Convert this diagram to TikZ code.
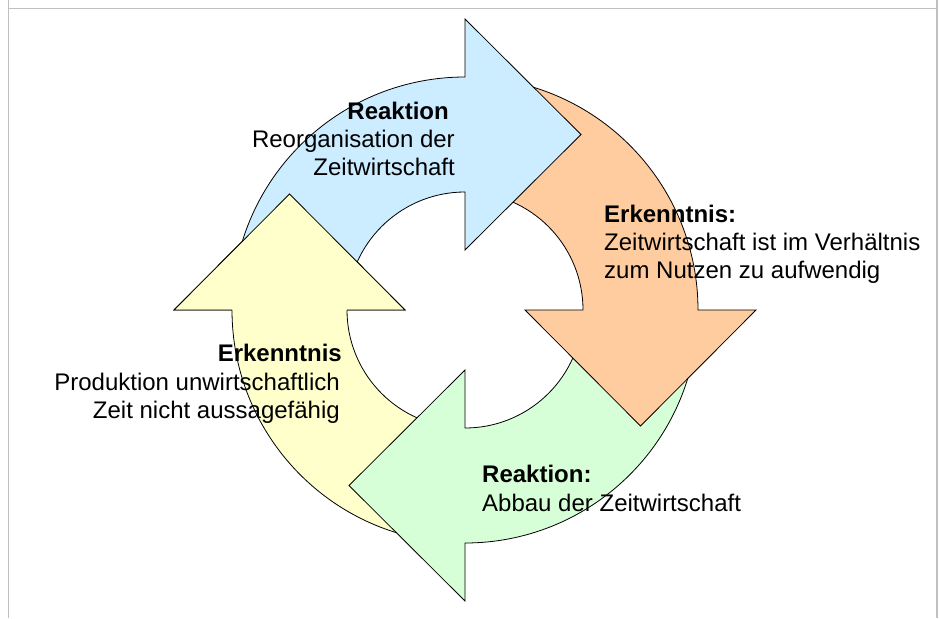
\documentclass[tikz,border=0pt]{standalone}
\usepackage{fontspec}
\setmainfont{Liberation Sans}
\definecolor{cblue}{RGB}{204,236,255}
\definecolor{corange}{RGB}{255,204,160}
\definecolor{cgreen}{RGB}{215,255,215}
\definecolor{cyellow}{RGB}{255,255,204}
\definecolor{framec}{RGB}{192,192,192}
\newcommand\cycarrow{(175:233) arc[start angle=175,end angle=90,radius=233pt] -- (90:291) -- (116,175.5) -- (90:60) -- (90:118) arc[start angle=90,end angle=175,radius=118pt] -- cycle}
\begin{document}
\begin{tikzpicture}[x=1pt,y=1pt,
  arrshape/.style={draw=black, line width=0.8pt, line join=miter},
  tx/.style={font=\fontsize{24}{27.6}\selectfont, inner sep=0pt},
  boldtx/.style={font=\fontsize{24}{27.6}\selectfont\bfseries, inner sep=0pt}]
\useasboundingbox (0,0) rectangle (939,-618);
% frame
\draw[framec, line width=1.5pt] (8.5,0) -- (8.5,-618);
\draw[framec, line width=1.5pt] (937,0) -- (937,-618);
\draw[framec, line width=1.5pt] (8.5,-8.5) -- (937,-8.5);
% arrows
\foreach \k/\c in {3/cyellow,2/cgreen,1/corange,0/cblue}{
  \begin{scope}[shift={(465,-310)}, rotate=-90*\k]
    \filldraw[arrshape, fill=\c] \cycarrow;
  \end{scope}
}
% yellow head on top of blue tail
\begin{scope}[shift={(465,-310)}, rotate=90]
  \fill[cyellow] (90:60) -- (116,175.5) -- (90:291) -- cycle;
  \draw[arrshape] (90:118) -- (90:60) -- (116,175.5) -- (90:291) -- (90:233);
\end{scope}
% texts
\node[boldtx, anchor=base east] (b1) at (449,-119) {Reaktion};
\node[tx, anchor=base east] (b2) at (455,-147.5) {Reorganisation der};
\node[tx, anchor=base east] (b3) at (455,-175.7) {Zeitwirtschaft};
\node[boldtx, anchor=base west] (o1) at (604,-222.3) {Erkenntnis:};
\node[tx, anchor=base west] (o2) at (604,-250.7) {Zeitwirtschaft ist im Verhältnis};
\node[tx, anchor=base west] (o3) at (604,-278.5) {zum Nutzen zu aufwendig};
\node[boldtx, anchor=base east] (y1) at (342,-361.7) {Erkenntnis};
\node[tx, anchor=base east] (y2) at (340,-390) {Produktion unwirtschaftlich};
\node[tx, anchor=base east] (y3) at (340,-418.3) {Zeit nicht aussagefähig};
\node[boldtx, anchor=base west] (g1) at (482,-482.7) {Reaktion:};
\node[tx, anchor=base west] (g2) at (482,-511) {Abbau der Zeitwirtschaft};
\end{tikzpicture}
\end{document}
